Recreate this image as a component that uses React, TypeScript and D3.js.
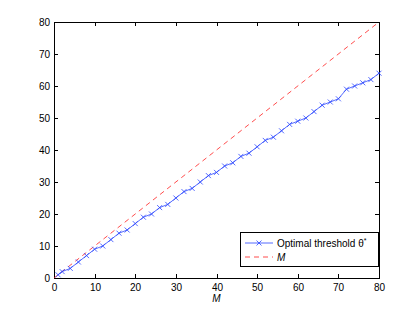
import React, { useEffect, useRef } from 'react';
import * as d3 from 'd3';

// M values and the optimal threshold
const mValues = [1, 2, 4, 6, 8, 10, 12, 14, 16, 18, 20, 22, 24, 26, 28, 30, 32, 34, 36, 38, 40, 42, 44, 46, 48, 50, 52, 54, 56, 58, 60, 62, 64, 66, 68, 70, 72, 74, 76, 78, 80];
const thetaValues = [1, 2, 3, 5, 7, 9, 10, 12, 14, 15, 17, 19, 20, 22, 23, 25, 27, 28, 30, 32, 33, 35, 36, 38, 39, 41, 43, 44, 46, 48, 49, 50, 52, 54, 55, 56, 59, 60, 61, 62, 64];
const refLine = [0, 80];
const tickValues = [0, 10, 20, 30, 40, 50, 60, 70, 80];

const App = () => {
  const svgRef = useRef<SVGSVGElement>(null);

  useEffect(() => {
    if (!svgRef.current) return;
    const width = 415;
    const height = 312;
    const left = 54, right = 379, top = 22, bottom = 278;

    const svg = d3.select(svgRef.current);
    svg.selectAll('*').remove();
    svg.attr('width', width).attr('height', height)
      .style('font-family', '"Liberation Sans", Arial, sans-serif');

    svg.append('rect').attr('width', width).attr('height', height).attr('fill', '#fff');

    const x = d3.scaleLinear().domain([0, 80]).range([left, right]);
    const y = d3.scaleLinear().domain([0, 80]).range([bottom, top]);

    // box
    svg.append('rect')
      .attr('x', left + 0.5).attr('y', top + 0.5)
      .attr('width', right - left).attr('height', bottom - top)
      .attr('fill', 'none').attr('stroke', '#000').attr('stroke-width', 1);

    const tl = 4;
    const g = svg.append('g').attr('font-size', 10).attr('fill', '#000');
    tickValues.forEach(v => {
      const px = Math.round(x(v)) + 0.5;
      const py = Math.round(y(v)) + 0.5;
      // x ticks bottom + top
      g.append('line').attr('x1', px).attr('x2', px).attr('y1', bottom).attr('y2', bottom - tl).attr('stroke', '#000');
      g.append('line').attr('x1', px).attr('x2', px).attr('y1', top).attr('y2', top + tl).attr('stroke', '#000');
      g.append('text').attr('x', px).attr('y', bottom + 13).attr('text-anchor', 'middle').text(v);
      // y ticks left + right
      g.append('line').attr('x1', left).attr('x2', left + tl).attr('y1', py).attr('y2', py).attr('stroke', '#000');
      g.append('line').attr('x1', right).attr('x2', right - tl).attr('y1', py).attr('y2', py).attr('stroke', '#000');
      g.append('text').attr('x', left - 4).attr('y', py + 3.5).attr('text-anchor', 'end').text(v);
    });

    // x label
    svg.append('text')
      .attr('x', (left + right) / 2).attr('y', bottom + 24)
      .attr('text-anchor', 'middle').attr('font-size', 10).attr('font-style', 'italic')
      .text('M');

    const blue = '#2a45ff';
    const red = '#ff2020';

    // reference dashed line M
    const line = d3.line<number>().x(d => x(d)).y(d => y(d));
    svg.append('path').datum(refLine).attr('d', line)
      .attr('fill', 'none').attr('stroke', red).attr('stroke-width', 0.8)
      .attr('stroke-dasharray', '5,4');

    // optimal threshold
    const pts = mValues.map((m, i) => [m, thetaValues[i]] as [number, number]);
    const line2 = d3.line<[number, number]>().x(d => x(d[0])).y(d => y(d[1]));
    svg.append('path').datum(pts).attr('d', line2)
      .attr('fill', 'none').attr('stroke', blue).attr('stroke-width', 0.8);

    const ms = 2.5;
    const markerPath = (cx: number, cy: number) =>
      `M${cx - ms},${cy - ms}L${cx + ms},${cy + ms}M${cx - ms},${cy + ms}L${cx + ms},${cy - ms}`;
    svg.append('g').selectAll('path').data(pts).enter().append('path')
      .attr('d', d => markerPath(x(d[0]), y(d[1])))
      .attr('stroke', blue).attr('stroke-width', 0.8).attr('fill', 'none');

    // legend
    const lx = 240, ly = 232, lw = 138, lh = 34;
    const lg = svg.append('g');
    lg.append('rect').attr('x', lx + 0.5).attr('y', ly + 0.5).attr('width', lw).attr('height', lh)
      .attr('fill', '#fff').attr('stroke', '#000').attr('stroke-width', 1);
    const r1 = ly + 11, r2 = ly + 25;
    lg.append('line').attr('x1', lx + 5).attr('x2', lx + 33).attr('y1', r1).attr('y2', r1)
      .attr('stroke', blue).attr('stroke-width', 0.8);
    lg.append('path').attr('d', markerPath(lx + 19, r1)).attr('stroke', blue).attr('stroke-width', 0.8);
    lg.append('text').attr('x', lx + 37).attr('y', r1 + 3.5).attr('font-size', 10)
      .text('Optimal threshold θ')
      .append('tspan').attr('dy', -4).attr('font-size', 7).text('*');
    lg.append('line').attr('x1', lx + 5).attr('x2', lx + 33).attr('y1', r2).attr('y2', r2)
      .attr('stroke', red).attr('stroke-width', 0.8).attr('stroke-dasharray', '5,4');
    lg.append('text').attr('x', lx + 37).attr('y', r2 + 3.5).attr('font-size', 10)
      .attr('font-style', 'italic').text('M');
  }, []);

  return <svg ref={svgRef} style={{ position: 'absolute', left: 0, top: 0 }}></svg>;
};

export default App;
